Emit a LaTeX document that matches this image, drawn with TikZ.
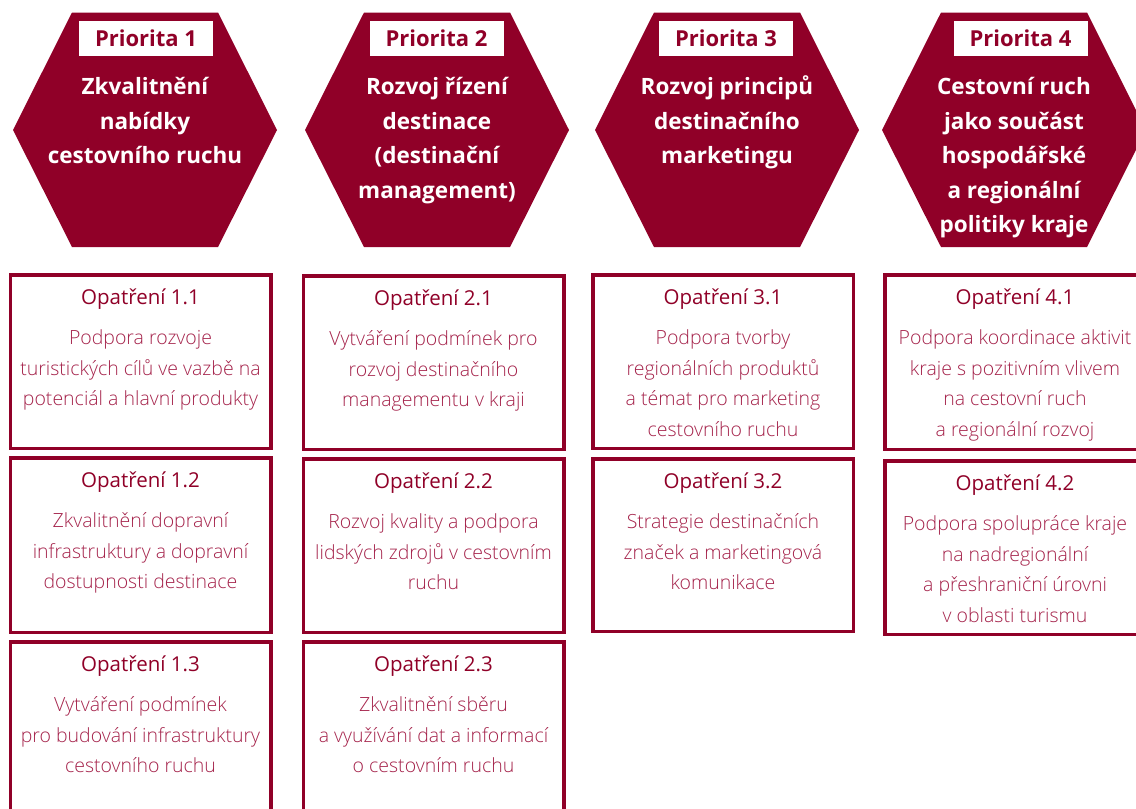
\documentclass[tikz,border=0pt]{standalone}
\usepackage{fontspec}
\setmainfont{Open Sans}
\newfontfamily\lightfont{Open Sans Light}
\definecolor{wine}{RGB}{144,0,40}
\definecolor{winetext}{RGB}{165,35,75}
\tikzset{
  opbox/.style={draw=wine, line width=3.5pt, fill=white, minimum width=260.5pt, inner sep=0pt},
  optitle/.style={anchor=base, inner sep=0pt, text=wine, font=\fontsize{20.5}{25}\selectfont},
  opbody/.style={anchor=north, inner sep=0pt, align=center, text=winetext, font=\lightfont\fontsize{19.5}{30.5}\selectfont},
  hextext/.style={anchor=north, inner sep=0pt, align=center, text=white, font=\bfseries\fontsize{22.5}{34.5}\selectfont},
  prio/.style={fill=white, minimum width=134pt, minimum height=35pt, inner sep=0pt, text=wine, font=\bfseries\fontsize{22}{26}\selectfont},
}
\newcommand{\opbox}[6]{%
  \node[opbox, minimum height={#4-#3-3.5}] (#1) at (#2,{(#3+#4)/2}) {};
  \node[optitle] (#1t) at (#2,#3+31.5) {#5};
  \node[opbody] (#1b) at (#2,#3+50) {\strut #6};
}
\newcommand{\hexa}[3]{%
  \fill[wine] (#2-132,130) -- (#2-73,12.5) -- (#2+73,12.5) -- (#2+132,130) -- (#2+73,247) -- (#2-73,247) -- cycle;
  \node[hextext] (#1) at (#2,70.5) {\strut #3};
}
\begin{document}
\begin{tikzpicture}[x=1pt,y=-1pt]
\useasboundingbox (0,0) rectangle (1136,809);
\clip (0,0) rectangle (1136,809);
\fill[white] (0,0) rectangle (1136,809);
% hexagons
\hexa{h1}{145}{Zkvalitnění\\nabídky\\cestovního ruchu}
\hexa{h2}{437}{Rozvoj řízení\\destinace\\(destinační\\management)}
\hexa{h3}{727}{Rozvoj principů\\destinačního\\marketingu}
\hexa{h4}{1014}{Cestovní ruch\\jako součást\\hospodářské\\a regionální\\politiky kraje}
\node[prio] (p1) at (146,38.5) {Priorita 1};
\node[prio] (p2) at (436.5,38.5) {Priorita 2};
\node[prio] (p3) at (726,38.5) {Priorita 3};
\node[prio] (p4) at (1020.5,38) {Priorita 4};
% column 1
\opbox{m11}{140.5}{273}{450}{Opatření 1.1}{Podpora rozvoje\\turistických cílů ve vazbě na\\potenciál a hlavní produkty}
\opbox{m12}{140.5}{456}{634}{Opatření 1.2}{Zkvalitnění dopravní\\infrastruktury a dopravní\\dostupnosti destinace}
\opbox{m13}{140.5}{640}{840}{Opatření 1.3}{Vytváření podmínek\\pro budování infrastruktury\\cestovního ruchu}
% column 2
\opbox{m21}{433.5}{274}{451}{Opatření 2.1}{Vytváření podmínek pro\\rozvoj destinačního\\managementu v kraji}
\opbox{m22}{433.5}{457}{634}{Opatření 2.2}{Rozvoj kvality a podpora\\lidských zdrojů v cestovním\\ruchu}
\opbox{m23}{433.5}{640}{840}{Opatření 2.3}{Zkvalitnění sběru\\a využívání dat a informací\\o cestovním ruchu}
% column 3
\opbox{m31}{723}{273}{450}{Opatření 3.1}{Podpora tvorby\\regionálních produktů\\a témat pro marketing\\cestovního ruchu}
\opbox{m32}{723}{457}{633}{Opatření 3.2}{Strategie destinačních\\značek a marketingová\\komunikace}
% column 4
\opbox{m41}{1015}{273}{451}{Opatření 4.1}{Podpora koordinace aktivit\\kraje s pozitivním vlivem\\na cestovní ruch\\a regionální rozvoj}
\opbox{m42}{1015}{459}{636}{Opatření 4.2}{Podpora spolupráce kraje\\na nadregionální\\a přeshraniční úrovni\\v oblasti turismu}
\end{tikzpicture}
\end{document}
